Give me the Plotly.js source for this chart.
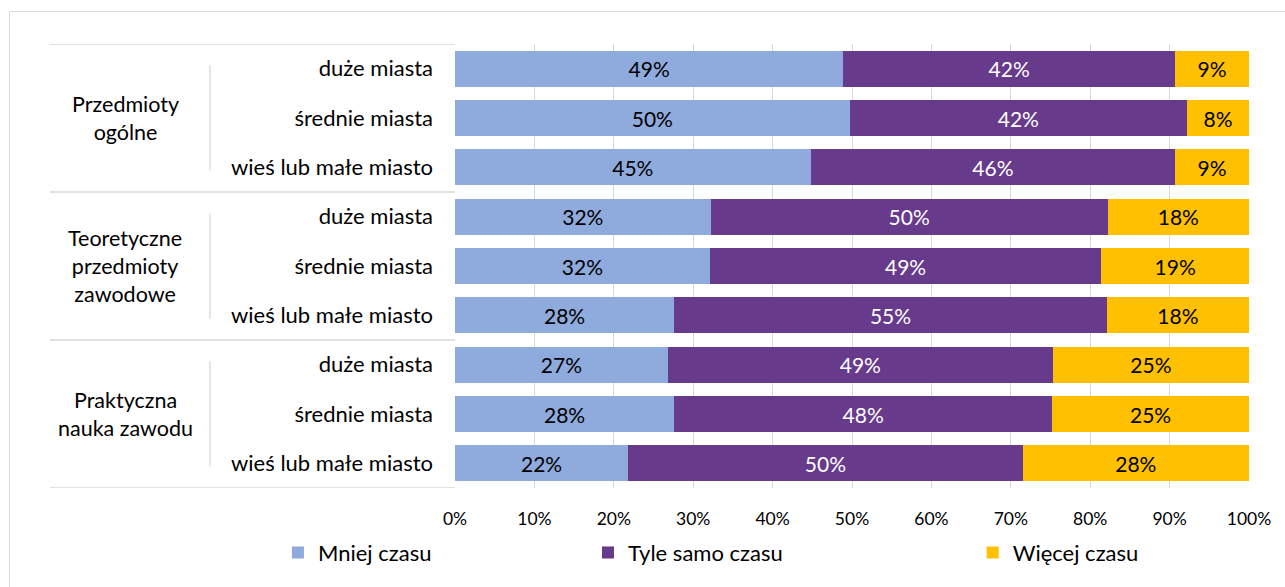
<!DOCTYPE html>
<html>
<head>
<meta charset="utf-8">
<script src="https://cdn.plot.ly/plotly-3.0.1.min.js"></script>
<style>
  html, body { margin: 0; padding: 0; background: #fff; }
  #wrap { position: relative; width: 1285px; height: 587px; overflow: hidden; }
  #frame { position: absolute; left: 9px; top: 11px; width: 1300px; height: 600px; border: 1px solid #d9d9d9; box-sizing: border-box; pointer-events: none; }
  #chart { position: absolute; left: 0; top: 0; width: 1285px; height: 587px; }
</style>
</head>
<body>
<div id="wrap">
  <div id="chart"></div>
  <div id="frame"></div>
</div>
<script>
// ---- data ----
const groups = ["Przedmioty<br>ogólne", "Teoretyczne<br>przedmioty<br>zawodowe", "Praktyczna<br>nauka zawodu"];
const subLabels = ["duże miasta", "średnie miasta", "wieś lub małe miasto",
                   "duże miasta", "średnie miasta", "wieś lub małe miasto",
                   "duże miasta", "średnie miasta", "wieś lub małe miasto"];
const seriesNames = ["Mniej czasu", "Tyle samo czasu", "Więcej czasu"];
const mniej = [48.9, 49.7, 44.8, 32.2, 32.1, 27.6, 26.8, 27.6, 21.8];
const tyle  = [41.8, 42.5, 45.9, 50.0, 49.3, 54.5, 48.5, 47.6, 49.7];
const wiecej= [9.3, 7.8, 9.3, 17.8, 18.6, 17.9, 24.7, 24.8, 28.5];
const mniejLabels = ["49%", "50%", "45%", "32%", "32%", "28%", "27%", "28%", "22%"];
const tyleLabels  = ["42%", "42%", "46%", "50%", "49%", "55%", "49%", "48%", "50%"];
const wiecejLabels= ["9%", "8%", "9%", "18%", "19%", "18%", "25%", "25%", "28%"];
const xTickVals = [0, 10, 20, 30, 40, 50, 60, 70, 80, 90, 100];
const xTickText = ["0%", "10%", "20%", "30%", "40%", "50%", "60%", "70%", "80%", "90%", "100%"];

const FONT = "Lato, 'Open Sans', sans-serif";
const rows = subLabels.map((_, i) => i);

function barTrace(vals, labels, name, color, textColor, legendId) {
  return {
    type: "bar", orientation: "h",
    x: vals, y: rows, name: name,
    text: labels, texttemplate: "%{text}",
    textposition: "inside", insidetextanchor: "middle",
    textfont: { family: FONT, size: 21, color: textColor },
    marker: { color: color, line: { width: 0 } },
    hoverinfo: "skip",
    legend: legendId,
    cliponaxis: false
  };
}

const data = [
  barTrace(mniej, mniejLabels, seriesNames[0], "#8FAADC", "#000000", "legend"),
  barTrace(tyle, tyleLabels, seriesNames[1], "#673A8B", "#ffffff", "legend2"),
  barTrace(wiecej, wiecejLabels, seriesNames[2], "#FFC000", "#000000", "legend3")
];

// group separators & labels
const shapes = [];
const annotations = [];
const lineColor = "#d9d9d9";
[-0.5, 2.5, 5.5, 8.5].forEach(yv => {
  shapes.push({ type: "line", xref: "paper", yref: "y", x0: -0.51, x1: 0, y0: yv, y1: yv,
                line: { color: lineColor, width: 1.3 } });
});
groups.forEach((g, gi) => {
  const y0 = gi * 3;
  shapes.push({ type: "line", xref: "paper", yref: "y", x0: -0.3086, x1: -0.3086,
                y0: y0 - 0.07, y1: y0 + 2.07, line: { color: lineColor, width: 1.3 } });
  annotations.push({ xref: "paper", yref: "y", x: -0.4156, y: y0 + 1, text: g,
                     showarrow: false, xanchor: "center", yanchor: "middle", align: "center",
                     font: { family: FONT, size: 21.5, color: "#000" } });
});

const legendBase = { orientation: "h", yanchor: "middle", xanchor: "left", y: -0.146,
                     font: { family: FONT, size: 22, color: "#000" }, bgcolor: "rgba(0,0,0,0)" };

const layout = {
  width: 1285, height: 587,
  margin: { l: 455, r: 36, t: 44, b: 99 },
  paper_bgcolor: "#ffffff", plot_bgcolor: "#ffffff",
  barmode: "stack", bargap: 0.27,
  font: { family: FONT, color: "#000" },
  xaxis: {
    range: [0, 100], tickvals: xTickVals, ticktext: xTickText,
    showgrid: true, gridcolor: "#d9d9d9", gridwidth: 1, zeroline: false,
    showline: false, ticks: "", ticklabelstandoff: 18,
    tickfont: { family: FONT, size: 17.5, color: "#000" },
    fixedrange: true
  },
  yaxis: {
    range: [8.5, -0.5], tickvals: rows, ticktext: subLabels,
    showgrid: false, zeroline: false, showline: false, ticks: "",
    ticklabelstandoff: 21,
    tickfont: { family: FONT, size: 22, color: "#000" }, fixedrange: true
  },
  showlegend: true,
  legend: Object.assign({}, legendBase, { x: -0.223 }),
  legend2: Object.assign({}, legendBase, { x: 0.1675 }),
  legend3: Object.assign({}, legendBase, { x: 0.652 }),
  shapes: shapes,
  annotations: annotations
};

Plotly.newPlot("chart", data, layout, { displayModeBar: false, staticPlot: true });
</script>
</body>
</html>
